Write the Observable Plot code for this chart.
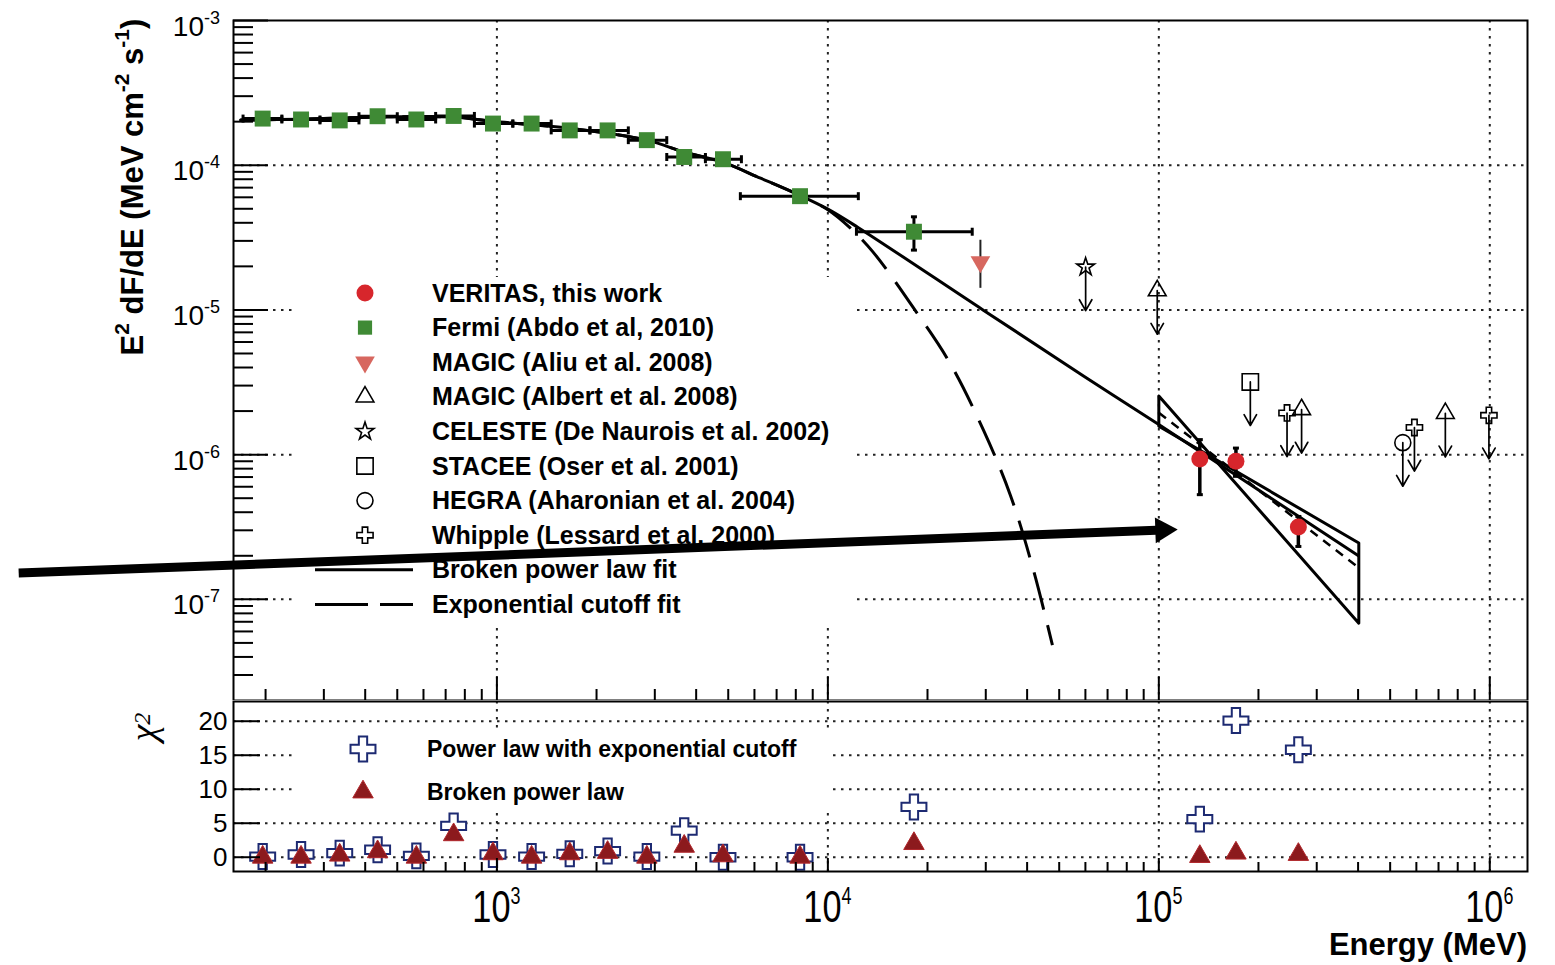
<!DOCTYPE html>
<html>
<head>
<meta charset="utf-8">
<script src="https://cdn.jsdelivr.net/npm/d3@7"></script>
<script src="https://cdn.jsdelivr.net/npm/@observablehq/plot@0.6"></script>
<style>
  html, body { margin: 0; padding: 0; background: #fff; }
  #chart { position: relative; width: 1555px; height: 965px; overflow: hidden; background: #fff; }
  #chart svg { display: block; }
  #chart text { white-space: pre; }
</style>
</head>
<body>
<div id="chart"></div>
<script>
// ---------- Fermi-LAT points (energy in MeV, E^2 dF/dE in MeV cm^-2 s^-1) ----------
const fermiE   = [196, 256, 335, 436, 571, 740, 973, 1273, 1660, 2160, 2838, 3681, 4820, 8240, 18200];
const fermiLo  = [171, 224, 292, 383, 500, 653, 855, 1117, 1459, 1910, 2495, 3260, 4266, 5440, 12200];
const fermiHi  = [224, 292, 383, 500, 653, 855, 1117, 1459, 1910, 2495, 3260, 4266, 5480, 12360, 27300];
const fermiF   = [2.10e-4, 2.07e-4, 2.04e-4, 2.18e-4, 2.07e-4, 2.19e-4, 1.94e-4, 1.94e-4, 1.74e-4, 1.74e-4, 1.49e-4, 1.14e-4, 1.10e-4, 6.11e-5, 3.47e-5];
const fermiFLo = [2.02e-4, 1.99e-4, 1.96e-4, 2.10e-4, 1.99e-4, 2.10e-4, 1.86e-4, 1.86e-4, 1.66e-4, 1.66e-4, 1.41e-4, 1.07e-4, 1.03e-4, 5.70e-5, 2.59e-5];
const fermiFHi = [2.18e-4, 2.15e-4, 2.12e-4, 2.26e-4, 2.15e-4, 2.28e-4, 2.02e-4, 2.02e-4, 1.82e-4, 1.82e-4, 1.57e-4, 1.21e-4, 1.17e-4, 6.50e-5, 4.40e-5];

// ---------- VERITAS points ----------
const veritasE   = [1.33e5, 1.71e5, 2.64e5];
const veritasF   = [9.33e-7, 8.99e-7, 3.16e-7];
const veritasFLo = [5.29e-7, 7.08e-7, 2.32e-7];
const veritasFHi = [1.27e-6, 1.11e-6, 3.74e-7];

// ---------- MAGIC (Aliu et al. 2008) ----------
const magicAliuE = [2.89e4];
const magicAliuF = [2.15e-5];
const magicAliuFLo = [1.41e-5];
const magicAliuFHi = [3.03e-5];

// ---------- Upper limits ----------
const magicAlbertE = [9.89e4, 2.70e5, 7.34e5];
const magicAlbertF = [1.36e-5, 2.05e-6, 1.93e-6];
const celesteE = [6.01e4];
const celesteF = [1.98e-5];
const staceeE = [1.89e5];
const staceeF = [3.18e-6];
const hegraE = [5.46e5];
const hegraF = [1.21e-6];
const whippleE = [2.44e5, 5.92e5, 9.94e5];
const whippleF = [1.94e-6, 1.54e-6, 1.87e-6];

// ---------- Fit curves ----------
const brokenE = [168, 255, 436, 740, 970, 1660, 2830, 3690, 4810, 6260, 8200, 1.0e4, 1.23e4, 2.95e4, 5.92e4, 9.97e4, 4.01e5];
const brokenF = [2.05e-4, 2.08e-4, 2.15e-4, 2.15e-4, 2.01e-4, 1.80e-4, 1.49e-4, 1.23e-4, 1.05e-4, 8.13e-5, 6.21e-5, 4.97e-5, 3.73e-5, 9.96e-6, 3.50e-6, 1.62e-6, 2.00e-7];
const cutoffE = [168, 255, 436, 740, 970, 1660, 2830, 3690, 4810, 6260, 8200, 1.0e4, 1.17e4, 1.37e4, 1.81e4, 2.34e4, 2.95e4, 3.56e4, 4.18e4, 4.77e4];
const cutoffF = [2.05e-4, 2.08e-4, 2.15e-4, 2.15e-4, 2.01e-4, 1.80e-4, 1.49e-4, 1.23e-4, 1.05e-4, 8.13e-5, 6.21e-5, 4.92e-5, 3.67e-5, 2.51e-5, 1.04e-5, 4.28e-6, 1.48e-6, 5.25e-7, 1.59e-7, 4.82e-8];
// VERITAS power-law butterfly and best fit
const bowtieE = [1e5, 4.02e5, 4.02e5, 1e5, 1e5];
const bowtieF = [2.54e-6, 6.84e-8, 2.45e-7, 1.57e-6, 2.54e-6];
const plE = [1e5, 4.02e5];
const plF = [1.95e-6, 1.65e-7];

// ---------- Callout arrow ----------
const calloutE = [35.9, 1.028e5];
const calloutF = [1.518e-7, 3.01e-7];

// ---------- Chi-square residuals ----------
const chiE = [...fermiE, ...veritasE];
const chiCutoff = [0.1, 0.4, 0.6, 1.1, 0.2, 4.6, 0.4, 0.1, 0.5, 0.9, 0.1, 3.9, 0.0, 0.0, 7.4, 5.6, 20.1, 15.8];
const chiBroken = [0.0, 0.0, 0.3, 0.8, 0.0, 3.3, 0.5, 0.0, 0.5, 0.7, 0.0, 1.6, 0.2, 0.0, 2.0, 0.1, 0.6, 0.4];

// ---------- Axes ----------
const xDomain = [160, 1.3e6];
const yDomain = [2.0e-8, 1e-3];
const chiDomain = [-2.1, 22.9];
const xMajor = [1e3, 1e4, 1e5, 1e6];
const yMajor = [1e-7, 1e-6, 1e-5, 1e-4, 1e-3];
const chiTicks = [0, 5, 10, 15, 20];

const legendLabels = [
  "VERITAS, this work",
  "Fermi (Abdo et al, 2010)",
  "MAGIC (Aliu et al. 2008)",
  "MAGIC (Albert et al. 2008)",
  "CELESTE (De Naurois et al. 2002)",
  "STACEE (Oser et al. 2001)",
  "HEGRA (Aharonian et al. 2004)",
  "Whipple (Lessard et al. 2000)",
  "Broken power law fit",
  "Exponential cutoff fit"
];
const chiLegendLabels = ["Power law with exponential cutoff", "Broken power law"];
const yTitle = "E^2 dF/dE (MeV cm^-2 s^-1)";
const xTitle = "Energy (MeV)";
const chiTitle = "χ^2";

// ---------- Styling ----------
const FONT = "'Liberation Sans', Arial, Helvetica, sans-serif";
const red = "#d7262c", green = "#3f8a35", salmon = "#d7675f", navy = "#1d2a72", darkRed = "#8c1a1d";
const gridStyle = {stroke: "#222", strokeWidth: 2, strokeDasharray: "2.5,5.5"};

function minorTicks(lo, hi) {
  const out = [];
  for (let n = Math.floor(Math.log10(lo)); n <= Math.ceil(Math.log10(hi)); n++)
    for (let k = 2; k <= 9; k++) { const v = k * Math.pow(10, n); if (v > lo && v < hi) out.push(v); }
  return out;
}
const xMinor = minorTicks(...xDomain);
const yMinor = minorTicks(...yDomain);
const idx = a => d3.range(a.length);
const capY = Math.pow(10, 4 / 144.75);   // half-height of bar end caps
const capX = Math.pow(10, 3 / 331);      // half-width of bar end caps
const exp10 = d => "10^" + Math.round(Math.log10(d));

// upper limit: open marker plus arrow down to half the value
function upperLimit(E, F, symbol, r) {
  return [
    Plot.dot(idx(E), {x: i => E[i], y: i => F[i], symbol, r, fill: "none", stroke: "black", strokeWidth: 1.6}),
    Plot.arrow(idx(E), {x1: i => E[i], x2: i => E[i], y1: i => F[i], y2: i => F[i] * 0.5,
      stroke: "black", strokeWidth: 1.7, headLength: 11, headAngle: 60})
  ];
}

// ================= spectrum panel =================
const spectrumSvg = Plot.plot({
  width: 1555, height: 700,
  marginLeft: 233, marginRight: 28, marginTop: 20, marginBottom: 0,
  x: {type: "log", domain: xDomain, axis: null, label: null},
  y: {type: "log", domain: yDomain, axis: null, label: null},
  style: {fontFamily: FONT, background: "white", color: "black"},
  marks: [
    Plot.ruleX(xMajor, {...gridStyle}),
    Plot.ruleY(yMajor.filter(v => v < 1e-3), {...gridStyle}),

    // fits
    Plot.line(idx(brokenE), {x: i => brokenE[i], y: i => brokenF[i], curve: "catmull-rom", stroke: "black", strokeWidth: 3}),
    Plot.line(idx(cutoffE), {x: i => cutoffE[i], y: i => cutoffF[i], curve: "catmull-rom", stroke: "black", strokeWidth: 3, strokeDasharray: "38,16", strokeLinecap: "butt"}),
    Plot.line(idx(bowtieE), {x: i => bowtieE[i], y: i => bowtieF[i], stroke: "black", strokeWidth: 3}),
    Plot.line(idx(plE), {x: i => plE[i], y: i => plF[i], stroke: "black", strokeWidth: 2.5, strokeDasharray: "9,7", strokeLinecap: "butt"}),

    // Fermi
    Plot.ruleY(idx(fermiE), {x1: i => fermiLo[i], x2: i => fermiHi[i], y: i => fermiF[i], stroke: "black", strokeWidth: 3}),
    Plot.link(idx(fermiE), {x1: i => fermiLo[i], x2: i => fermiLo[i], y1: i => fermiF[i] * capY, y2: i => fermiF[i] / capY, stroke: "black", strokeWidth: 3}),
    Plot.link(idx(fermiE), {x1: i => fermiHi[i], x2: i => fermiHi[i], y1: i => fermiF[i] * capY, y2: i => fermiF[i] / capY, stroke: "black", strokeWidth: 3}),
    Plot.ruleX(idx(fermiE), {x: i => fermiE[i], y1: i => fermiFLo[i], y2: i => fermiFHi[i], stroke: "black", strokeWidth: 3}),
    Plot.link(idx(fermiE), {x1: i => fermiE[i] / capX, x2: i => fermiE[i] * capX, y1: i => fermiFHi[i], y2: i => fermiFHi[i], stroke: "black", strokeWidth: 3}),
    Plot.link(idx(fermiE), {x1: i => fermiE[i] / capX, x2: i => fermiE[i] * capX, y1: i => fermiFLo[i], y2: i => fermiFLo[i], stroke: "black", strokeWidth: 3}),
    Plot.dot(idx(fermiE), {x: i => fermiE[i], y: i => fermiF[i], symbol: "square", r: 9, fill: green}),

    // MAGIC (Aliu)
    Plot.ruleX(idx(magicAliuE), {x: i => magicAliuE[i], y1: i => magicAliuFLo[i], y2: i => magicAliuFHi[i], stroke: "#222", strokeWidth: 2}),
    Plot.dot(idx(magicAliuE), {x: i => magicAliuE[i], y: i => magicAliuF[i], symbol: "triangle", rotate: 180, r: 7.3, fill: salmon}),

    // VERITAS
    Plot.ruleX(idx(veritasE), {x: i => veritasE[i], y1: i => veritasFLo[i], y2: i => veritasFHi[i], stroke: "black", strokeWidth: 3.5}),
    Plot.link(idx(veritasE), {x1: i => veritasE[i] / capX, x2: i => veritasE[i] * capX, y1: i => veritasFLo[i], y2: i => veritasFLo[i], stroke: "black", strokeWidth: 3}),
    Plot.link(idx(veritasE), {x1: i => veritasE[i] / capX, x2: i => veritasE[i] * capX, y1: i => veritasFHi[i], y2: i => veritasFHi[i], stroke: "black", strokeWidth: 3}),
    Plot.dot(idx(veritasE), {x: i => veritasE[i], y: i => veritasF[i], symbol: "circle", r: 8.5, fill: red}),

    // upper limits
    ...upperLimit(celesteE, celesteF, "star", 5.6),
    ...upperLimit(magicAlbertE, magicAlbertF, "triangle", 6.6),
    ...upperLimit(staceeE, staceeF, "square", 9.2),
    ...upperLimit(hegraE, hegraF, "circle", 8),
    ...upperLimit(whippleE, whippleF, "cross", 6.8),

    // axes
    Plot.axisY({ticks: yMajor, tickSize: -35, strokeWidth: 2, fill: "none", tickFormat: () => "", label: null}),
    Plot.axisY({ticks: yMinor, tickSize: -20, strokeWidth: 2, fill: "none", tickFormat: () => "", label: null}),
    Plot.axisX({ticks: xMajor, tickSize: -23, strokeWidth: 2, fill: "none", tickFormat: () => "", label: null}),
    Plot.axisX({ticks: xMinor, tickSize: -11, strokeWidth: 2, fill: "none", tickFormat: () => "", label: null}),
    Plot.frame({stroke: "black", strokeWidth: 2}),

    // callout arrow
    Plot.link([0], {x1: calloutE[0], y1: calloutF[0], x2: calloutE[1], y2: calloutF[1], stroke: "black", strokeWidth: 9, strokeLinecap: "butt"}),
    Plot.dot([0], {x: calloutE[1], y: calloutF[1], symbol: "triangle", r: 9.6, rotate: 88, fill: "black"})
  ]
});

// ================= chi-square panel =================
const chiSvg = Plot.plot({
  width: 1555, height: 265,
  marginLeft: 233, marginRight: 28, marginTop: 1, marginBottom: 94,
  x: {type: "log", domain: xDomain, axis: null, label: null},
  y: {domain: chiDomain, axis: null, label: null},
  style: {fontFamily: FONT, background: "white", color: "black"},
  marks: [
    Plot.ruleX(xMajor, {...gridStyle}),
    Plot.ruleY(chiTicks, {...gridStyle}),
    Plot.dot(idx(chiE), {x: i => chiE[i], y: i => chiCutoff[i], symbol: "cross", r: 10.5, fill: "white", stroke: navy, strokeWidth: 2}),
    Plot.dot(idx(chiE), {x: i => chiE[i], y: i => chiBroken[i], symbol: "triangle", r: 7.6, fill: darkRed, stroke: "#b0262a", strokeWidth: 1}),
    Plot.axisY({ticks: chiTicks, tickSize: -27, strokeWidth: 2, fill: "none", tickFormat: () => "", label: null}),
    Plot.axisX({ticks: xMajor, tickSize: -13, strokeWidth: 2, fill: "none", tickFormat: () => "", label: null}),
    Plot.axisX({ticks: xMinor, tickSize: -9, strokeWidth: 2, fill: "none", tickFormat: () => "", label: null}),
    Plot.text(chiTicks, {frameAnchor: "left", y: d => d, text: d => String(d), textAnchor: "end", dx: -6, fontSize: 26}),
    Plot.frame({stroke: "black", strokeWidth: 2})
  ]
});

// ---------- text helpers ----------
// text with "a^b" parts raised as superscripts
function richText(parent, str, supSize, rise) {
  const t = parent.append("text");
  str.split(/\^(-?\d+)/).forEach((p, i) => {
    if (!p) return;
    const s = t.append("tspan").text(p);
    if (i % 2) s.attr("font-size", supSize).attr("dy", -rise);
    else if (i > 0) s.attr("dy", rise);
  });
  return t;
}
const symPath = (type, r) => d3.symbol(type, Math.PI * r * r)();

const spectrum = d3.select(spectrumSvg);
const chiPanel = d3.select(chiSvg);
const ySpec = spectrumSvg.scale("y");
const xChi = chiSvg.scale("x");

// flux tick labels and title
{
  const g = spectrum.append("g").attr("font-family", FONT).attr("text-anchor", "end").attr("font-size", 28);
  yMajor.forEach(v => richText(g, exp10(v), 18, 12).attr("x", 220).attr("y", ySpec.apply(v) + 15.5));
  richText(spectrum.append("g").attr("font-family", FONT).attr("text-anchor", "middle")
      .attr("font-size", 31).attr("font-weight", "bold"), yTitle, 21, 14)
    .attr("transform", "translate(143,187) rotate(-90)");
}

// energy tick labels, energy title and chi-square title
{
  const g = chiPanel.append("g").attr("font-family", FONT).attr("text-anchor", "middle").attr("font-size", 44);
  xMajor.forEach(v => richText(g, exp10(v), 23, 18).attr("transform", `translate(${xChi.apply(v)},222) scale(0.78,1)`));
  chiPanel.append("text").attr("font-family", FONT).attr("text-anchor", "end").attr("font-size", 31)
    .attr("font-weight", "bold").attr("x", 1527).attr("y", 255).text(xTitle);
  richText(chiPanel.append("g").attr("font-family", "'Liberation Serif', 'DejaVu Serif', serif")
      .attr("font-style", "italic").attr("text-anchor", "middle").attr("font-size", 38), chiTitle, 24, 6)
    .attr("transform", "translate(156,27) rotate(-90)");
}

// ---------- spectrum legend (drawn under the callout arrow) ----------
const legendMarkers = [
  {type: d3.symbolCircle, r: 8.5, fill: red},
  {type: d3.symbolSquare, r: 8, fill: green},
  {type: d3.symbolTriangle, r: 7.3, fill: salmon, rotate: 180},
  {type: d3.symbolTriangle, r: 6.6, fill: "none", stroke: "black"},
  {type: d3.symbolStar, r: 5.6, fill: "none", stroke: "black"},
  {type: d3.symbolSquare, r: 9.2, fill: "none", stroke: "black"},
  {type: d3.symbolCircle, r: 8, fill: "none", stroke: "black"},
  {type: d3.symbolCross, r: 6.8, fill: "none", stroke: "black"},
  {line: null},
  {line: "53,12"}
];
{
  const arrowGroup = spectrum.select('g[stroke-width="9"]').node();
  const g = spectrum.insert("g", () => arrowGroup)
    .attr("font-family", FONT).attr("text-anchor", "start");
  g.append("rect").attr("x", 293).attr("y", 277).attr("width", 564).attr("height", 350).attr("fill", "white");
  legendLabels.forEach((label, i) => {
    const y = 293 + i * 34.6, m = legendMarkers[i];
    if ("line" in m) {
      g.append("line").attr("x1", 315).attr("x2", 413).attr("y1", y).attr("y2", y)
        .attr("stroke", "black").attr("stroke-width", 3).attr("stroke-dasharray", m.line);
    } else {
      g.append("path").attr("d", symPath(m.type, m.r))
        .attr("transform", `translate(365,${y}) rotate(${m.rotate || 0})`)
        .attr("fill", m.fill).attr("stroke", m.stroke || "none").attr("stroke-width", 1.6);
    }
    g.append("text").attr("x", 432).attr("y", y).attr("dy", "0.34em")
      .attr("font-size", 25).attr("font-weight", "bold").text(label);
  });
}

// ---------- chi-square legend ----------
{
  const firstDots = chiPanel.select(`g[stroke="${navy}"]`).node();
  const g = chiPanel.insert("g", () => firstDots)
    .attr("font-family", FONT).attr("text-anchor", "start");
  g.append("rect").attr("x", 293).attr("y", 32).attr("width", 537).attr("height", 78).attr("fill", "white");
  g.append("path").attr("d", symPath(d3.symbolCross, 10.5)).attr("transform", "translate(363,49)")
    .attr("fill", "white").attr("stroke", navy).attr("stroke-width", 2);
  g.append("path").attr("d", symPath(d3.symbolTriangle, 7.6)).attr("transform", "translate(363,92)")
    .attr("fill", darkRed).attr("stroke", "#b0262a").attr("stroke-width", 1);
  chiLegendLabels.forEach((label, i) => {
    g.append("text").attr("x", 427).attr("y", 49 + i * 43).attr("dy", "0.34em")
      .attr("font-size", 23).attr("font-weight", "bold").text(label);
  });
}

document.getElementById("chart").append(spectrumSvg, chiSvg);
</script>
</body>
</html>
